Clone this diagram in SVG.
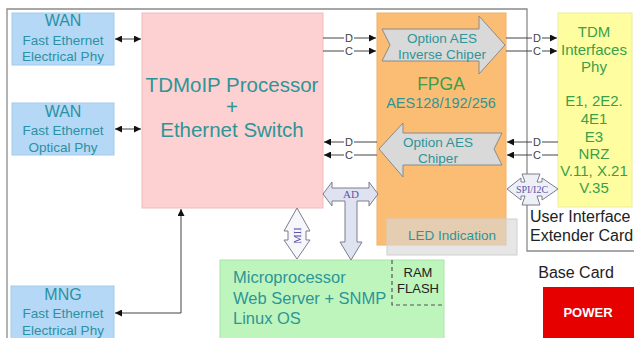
<svg xmlns="http://www.w3.org/2000/svg" width="634" height="338" viewBox="0 0 634 338">
<defs>
<style>
.t{font-family:"Liberation Sans",Arial,sans-serif;text-anchor:middle}
.teal{fill:#2e9597}
.blue{fill:#2b91a3}
.grn{fill:#3a9e4a}
.dark{fill:#222}
.lbl{font-family:"Liberation Sans",Arial,sans-serif;font-size:11px;fill:#444;text-anchor:middle}
.ser{font-family:"Liberation Serif","Times New Roman",serif;fill:#5a55a8;text-anchor:middle}
.frame{stroke:#8a8a8a;stroke-width:1.3;fill:none}
.wire{stroke:#444;stroke-width:1;fill:none}
.bus{fill:#dfe3f1;stroke:#7c7c8c;stroke-width:1}
.garr{fill:#d9d9d9;stroke:#8a8a8a;stroke-width:1}
</style>
<marker id="ah" viewBox="0 0 10 10" refX="10" refY="5" markerWidth="9" markerHeight="7" markerUnits="userSpaceOnUse" orient="auto-start-reverse">
<path d="M0,0 L10,5 L0,10 z" fill="#111"/>
</marker>
</defs>
<rect width="634" height="338" fill="#fff"/>

<g id="frame">
<path class="frame" d="M7,338 V9 H527 V251 H634"/>
</g>

<g id="wan1">
<rect x="12" y="13" width="102" height="52" fill="#b4d8f6" stroke="#a3cbea"/>
<text class="t blue" x="63" y="26" font-size="16">WAN</text>
<text class="t blue" x="63" y="45" font-size="13.5">Fast Ethernet</text>
<text class="t blue" x="63" y="61" font-size="13.5">Electrical Phy</text>
</g>

<g id="wan2">
<rect x="12" y="103" width="102" height="52" fill="#b4d8f6" stroke="#a3cbea"/>
<text class="t blue" x="63" y="117" font-size="16">WAN</text>
<text class="t blue" x="63" y="135" font-size="13.5">Fast Ethernet</text>
<text class="t blue" x="63" y="152" font-size="13.5">Optical Phy</text>
</g>

<g id="mng">
<rect x="11" y="286" width="103" height="56" fill="#b4d8f6" stroke="#a3cbea"/>
<text class="t blue" x="63" y="300" font-size="16">MNG</text>
<text class="t blue" x="63" y="318" font-size="13.5">Fast Ethernet</text>
<text class="t blue" x="63" y="335" font-size="13.5">Electrical Phy</text>
</g>

<g id="tdmoip">
<rect x="142" y="13" width="181" height="195" fill="#fdd0d1" stroke="#f0bcbd"/>
<text class="t teal" x="232" y="92" font-size="20.5">TDMoIP Processor</text>
<text class="t teal" x="232" y="114" font-size="20.5">+</text>
<text class="t teal" x="232" y="137" font-size="20.5">Ethernet Switch</text>
</g>

<g id="fpga">
<rect x="377" y="13" width="129" height="232" fill="#fbbd74" stroke="#f0b068"/>
<text class="t grn" x="441" y="90" font-size="17.5">FPGA</text>
<text class="t teal" x="441" y="108" font-size="14.5">AES128/192/256</text>
</g>

<g id="inverse-chiper">
<path class="garr" d="M382,29 H479 V16 L505,45 L479,74 V61 H382 L390,45 Z"/>
<text class="t teal" x="442" y="43" font-size="13.5">Option AES</text>
<text class="t teal" x="442" y="59" font-size="13.5">Inverse Chiper</text>
</g>

<g id="chiper">
<path class="garr" d="M379,149 L403,123 V133 H502 L494,149 L502,165 H403 V177 Z"/>
<text class="t teal" x="438" y="147" font-size="13.5">Option AES</text>
<text class="t teal" x="438" y="163" font-size="13.5">Chiper</text>
</g>

<g id="led">
<rect x="387" y="219" width="130" height="36" fill="#d6d6d6" fill-opacity="0.62" stroke="#cfcfcf"/>
<text class="t teal" x="452" y="240" font-size="13.5">LED Indication</text>
</g>

<g id="tdm-phy">
<rect x="558" y="13" width="74" height="194" fill="#fefea0" stroke="#ececa0"/>
<text class="t grn" x="594" y="37" font-size="15">TDM</text>
<text class="t grn" x="594" y="55" font-size="15">Interfaces</text>
<text class="t grn" x="594" y="72" font-size="15">Phy</text>
<text class="t grn" x="594" y="106" font-size="15">E1, 2E2.</text>
<text class="t grn" x="594" y="124" font-size="15">4E1</text>
<text class="t grn" x="594" y="142" font-size="15">E3</text>
<text class="t grn" x="594" y="159" font-size="15">NRZ</text>
<text class="t grn" x="594" y="176" font-size="15">V.11, X.21</text>
<text class="t grn" x="594" y="193" font-size="15">V.35</text>
</g>

<g id="ui-card">
<text class="t dark" x="530" y="222" font-size="16" style="text-anchor:start">User Interface</text>
<text class="t dark" x="530" y="241" font-size="16" style="text-anchor:start">Extender Card</text>
</g>

<g id="micro">
<rect x="220" y="260" width="224" height="82" fill="#bdf5bd" stroke="#a8e4a8"/>
<path d="M392,260 V305 H444" fill="none" stroke="#555" stroke-width="1.2" stroke-dasharray="4,3"/>
<text class="t teal" x="233" y="283" font-size="16.5" style="text-anchor:start">Microprocessor</text>
<text class="t teal" x="233" y="304" font-size="16.5" style="text-anchor:start">Web Server + SNMP</text>
<text class="t teal" x="233" y="324" font-size="16.5" style="text-anchor:start">Linux OS</text>
<text class="t dark" x="418" y="277" font-size="13">RAM</text>
<text class="t dark" x="418" y="293" font-size="13">FLASH</text>
</g>

<g id="base-card">
<text class="t dark" x="576" y="278" font-size="16">Base Card</text>
</g>

<g id="power">
<rect x="543" y="287" width="93" height="55" fill="#e60000"/>
<text class="t" x="588" y="317" font-size="13" font-weight="bold" fill="#fff">POWER</text>
</g>

<g id="connectors">
<line class="wire" x1="115" y1="39" x2="141" y2="39" marker-start="url(#ah)" marker-end="url(#ah)"/>
<line class="wire" x1="115" y1="129" x2="141" y2="129" marker-start="url(#ah)" marker-end="url(#ah)"/>
<path class="wire" d="M115,313 H181 V209" marker-start="url(#ah)" marker-end="url(#ah)"/>

<path class="wire" d="M323,38 H344 M354,38 H376" marker-end="url(#ah)"/>
<path class="wire" d="M323,51 H344 M354,51 H376" marker-end="url(#ah)"/>
<text class="lbl" x="349" y="42">D</text>
<text class="lbl" x="349" y="55">C</text>

<path class="wire" d="M506,38 H532 M542,38 H557" marker-end="url(#ah)"/>
<path class="wire" d="M506,51 H532 M542,51 H557" marker-end="url(#ah)"/>
<text class="lbl" x="537" y="42">D</text>
<text class="lbl" x="537" y="55">C</text>

<path class="wire" d="M377,142 H354 M344,142 H324" marker-end="url(#ah)"/>
<path class="wire" d="M377,155 H354 M344,155 H324" marker-end="url(#ah)"/>
<text class="lbl" x="349" y="146">D</text>
<text class="lbl" x="349" y="159">C</text>

<path class="wire" d="M558,142 H542 M532,142 H507" marker-end="url(#ah)"/>
<path class="wire" d="M558,155 H542 M532,155 H507" marker-end="url(#ah)"/>
<text class="lbl" x="537" y="146">D</text>
<text class="lbl" x="537" y="159">C</text>

<g id="mii">
<path class="bus" d="M297,208 L310,231 H306 V240 H310 L297,259 L284,240 H288 V231 H284 Z" style="fill:#f6f7fb"/>
<text class="ser" font-size="10.5" transform="translate(300.5,235.5) rotate(-90)">MII</text>
</g>
<g id="ad">
<path class="bus" d="M323,194 L332,182 V188 H369 V182 L378,194 L369,206 V201 H357 V242 H362 L351,260 L340,242 H345 V201 H332 V206 Z"/>
<text class="ser" x="351" y="198" font-size="11">AD</text>
</g>
<g id="spi">
<path class="bus" d="M507,189 L521,178 V182 H525 L522,174 H540 L537,182 H542 V178 L558,189 L542,200 V196 H537 L540,205 H522 L525,196 H521 V200 Z" style="fill:#eef0f8"/>
<text class="ser" x="532" y="193" font-size="10">SPI/I2C</text>
</g>
</g>
</svg>
